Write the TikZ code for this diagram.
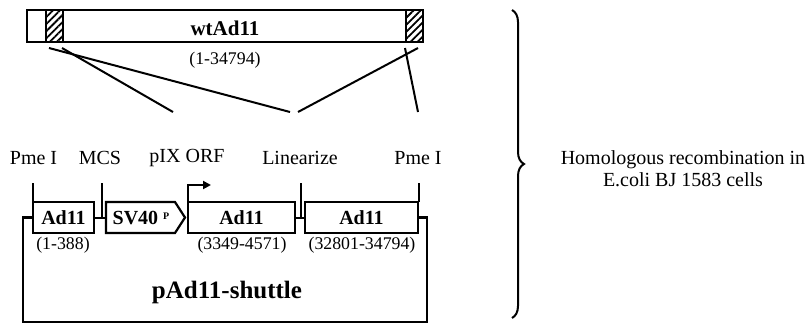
\documentclass[tikz,border=0pt]{standalone}
\usepackage{fontspec}
\setmainfont{Liberation Serif}
\usetikzlibrary{arrows.meta,patterns.meta,decorations.pathreplacing}
\begin{document}
\begin{tikzpicture}[x=1pt,y=-1pt,
  box/.style={draw,line width=2.2pt,rectangle,inner sep=0pt,outer sep=0pt,minimum height=31pt,font=\fontsize{20}{22}\selectfont\bfseries},
  lbl/.style={inner sep=0pt,font=\fontsize{20}{22}\selectfont},
  num/.style={inner sep=0pt,font=\fontsize{17.8}{20}\selectfont},
  conn/.style={line width=2pt},
  hatch/.style={draw,line width=2.2pt,pattern={Lines[angle=45,distance=5pt,line width=1.8pt]}}]
\useasboundingbox (0,0) rectangle (808,325);
% top bar
\node[box,minimum width=396pt,minimum height=32pt] (wt) at (225,26) {};
\draw[hatch] (46,10) rectangle (63,42);
\draw[hatch] (406,10) rectangle (423,42);
\draw[line width=2.2pt] (wt.north west) rectangle (wt.south east);
\node[inner sep=0pt,font=\fontsize{21}{23}\selectfont\bfseries] (wtl) at (225,28) {wtAd11};
\node[num] (wtn) at (225,60) {(1-34794)};
% crossing lines
\coordinate (t1) at (49,48);
\coordinate (t2) at (62,48);
\coordinate (t3) at (418,48);
\coordinate (t4) at (405,48);
\coordinate (b1) at (290,112);
\coordinate (b2) at (173,112);
\coordinate (b3) at (298,112);
\coordinate (b4) at (418,112);
\draw[conn] (t1) -- (b1);
\draw[conn] (t2) -- (b2);
\draw[conn] (t3) -- (b3);
\draw[conn] (t4) -- (b4);
% labels
\node[lbl] (pme1) at (33.5,158) {Pme I};
\node[lbl] (mcs) at (100,158) {MCS};
\node[lbl] (pix) at (187,158) {pIX ORF};
\node[lbl] (lin) at (300,158) {Linearize};
\node[lbl] (pme2) at (418,158) {Pme I};
% boxes
\node[box,minimum width=61pt] (a1) at (63.5,217.5) {Ad11};
\node[box,minimum width=107pt] (a2) at (241.5,217.5) {Ad11};
\node[box,minimum width=113pt] (a3) at (361.5,217.5) {Ad11};
\draw[line width=2.2pt,line join=miter] (106,202) -- (175,202) -- (185,217.5) -- (175,233) -- (106,233) -- cycle;
\node[inner sep=0pt,font=\fontsize{20}{22}\selectfont\bfseries] (sv) at (141,218) {SV40 \raisebox{5pt}{\fontsize{10}{12}\selectfont P}};
\coordinate (svw) at (106,217.5);
% ticks
\draw[conn] (33,183) -- (a1.north west);
\draw[conn] (102,183) -- (102,217.5);
\draw[conn] (301,183) -- (301,217.5);
\draw[conn] (419,183) -- (419,202);
% connectors between boxes
\draw[conn] (a1.east) -- (svw);
\draw[conn] (a2.east) -- (a3.west);
% promoter arrow
\draw[conn,-{Triangle[length=8pt,width=8pt]}] (a2.north west) -- (188,185) -- (211,185);
% numbers
\node[num] (n1) at (63,245) {(1-388)};
\node[num] (n2) at (242,245) {(3349-4571)};
\node[num] (n3) at (362,245) {(32801-34794)};
% loop
\coordinate (l1) at (23,217.5);
\coordinate (l2) at (23,322);
\coordinate (l3) at (427,322);
\coordinate (l4) at (427,217.5);
\draw[line width=2.2pt] (a1.west) -- (l1) -- (l2) -- (l3) -- (l4) -- (a3.east);
\node[inner sep=0pt,font=\fontsize{25}{28}\selectfont\bfseries] (sh) at (227,292) {pAd11-shuttle};
% brace
\coordinate (br1) at (512,10);
\coordinate (br2) at (512,318);
\draw[line width=2pt,decorate,decoration={brace,amplitude=12pt}] (br1) -- (br2);
\node[lbl,align=center,font=\fontsize{20}{22}\selectfont] (hom) at (683,169) {Homologous recombination in\\E.coli BJ 1583 cells};
\end{tikzpicture}
\end{document}
